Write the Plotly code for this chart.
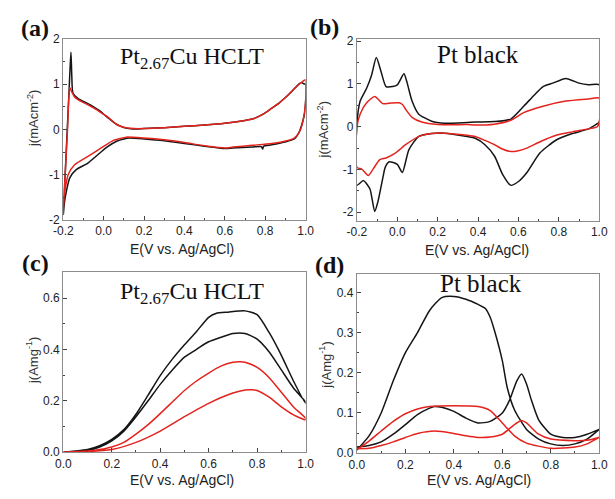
import plotly.graph_objects as go

# ---------------- (a) CV of Pt2.67Cu HCLT, j in mA cm^-2 ----------------
a_black_E = [-0.200, -0.190, -0.180, -0.172, -0.166, -0.162, -0.158, -0.152, -0.128, -0.100,
             -0.064, -0.040, -0.016, 0.010, 0.032, 0.055, 0.080, 0.110, 0.144, 0.200, 0.300,
             0.400, 0.500, 0.600, 0.700, 0.736, 0.790, 0.832, 0.870, 0.896, 0.920, 0.944,
             0.968, 0.980, 0.992, 1.000,
             1.000, 0.995, 0.984, 0.968, 0.944, 0.896, 0.832, 0.792, 0.788, 0.780, 0.736,
             0.640, 0.600, 0.500, 0.400, 0.300, 0.200, 0.128, 0.100, 0.064, 0.016, -0.032,
             -0.080, -0.136, -0.168, -0.184, -0.194, -0.200]
a_black_j = [-1.88, -0.92, 0.04, 0.80, 1.40, 1.71, 1.20, 0.80, 0.69, 0.62,
             0.54, 0.47, 0.40, 0.30, 0.22, 0.14, 0.08, 0.03, 0.01, 0.02, 0.04,
             0.07, 0.10, 0.14, 0.20, 0.23, 0.34, 0.47, 0.59, 0.69, 0.79, 0.90,
             1.01, 1.04, 1.01, 1.00,
             0.60, 0.35, 0.15, -0.06, -0.21, -0.28, -0.34, -0.37, -0.43, -0.38, -0.39,
             -0.41, -0.42, -0.37, -0.31, -0.25, -0.21, -0.19, -0.21, -0.26, -0.39, -0.57,
             -0.75, -0.89, -1.07, -1.35, -1.60, -1.88]
a_red_E = [-0.200, -0.190, -0.180, -0.168, -0.160, -0.144, -0.112, -0.080, -0.048, -0.016,
           0.016, 0.040, 0.064, 0.090, 0.112, 0.150, 0.200, 0.300, 0.400, 0.500, 0.600,
           0.700, 0.736, 0.790, 0.832, 0.870, 0.896, 0.920, 0.944, 0.968, 0.985, 0.995, 1.000,
           1.000, 0.990, 0.975, 0.960, 0.944, 0.896, 0.832, 0.736, 0.640, 0.600, 0.500,
           0.400, 0.300, 0.200, 0.112, 0.080, 0.048, -0.016, -0.080, -0.144, -0.176,
           -0.188, -0.196, -0.200]
a_red_j = [-1.78, -0.93, -0.08, 0.93, 0.85, 0.72, 0.62, 0.55, 0.47, 0.38,
           0.29, 0.20, 0.11, 0.06, 0.04, 0.02, 0.02, 0.04, 0.07, 0.10, 0.14,
           0.20, 0.23, 0.34, 0.47, 0.59, 0.69, 0.79, 0.90, 1.00, 1.06, 1.09, 1.10,
           0.60, 0.25, 0.00, -0.12, -0.19, -0.26, -0.31, -0.35, -0.39, -0.41, -0.36,
           -0.29, -0.23, -0.19, -0.17, -0.20, -0.24, -0.42, -0.60, -0.78, -1.00,
           -1.25, -1.50, -1.78]

# ---------------- (b) CV of Pt black ----------------
b_black_E = [-0.200, -0.200, -0.184, -0.152, -0.128, -0.104, -0.080, -0.056, -0.023, 0.000,
             0.033, 0.049, 0.073, 0.105, 0.170, 0.233, 0.346, 0.386, 0.480, 0.562, 0.626,
             0.680, 0.722, 0.770, 0.835, 0.900, 0.947, 1.000,
             1.000, 0.990, 0.947, 0.867, 0.787, 0.707, 0.642, 0.600, 0.562, 0.520, 0.482,
             0.434, 0.386, 0.346, 0.233, 0.170, 0.105, 0.057, 0.025, 0.000, -0.040, -0.060,
             -0.072, -0.096, -0.112, -0.136, -0.168, -0.200]
b_black_j = [-1.37, 0.07, 0.60, 0.90, 1.20, 1.62, 1.28, 0.94, 0.94, 0.98,
             1.24, 1.02, 0.60, 0.30, 0.13, 0.08, 0.10, 0.11, 0.12, 0.18, 0.48,
             0.75, 0.94, 1.02, 1.13, 1.02, 0.98, 0.98,
             0.10, 0.07, -0.05, -0.16, -0.31, -0.61, -1.07, -1.28, -1.37, -1.10, -0.69,
             -0.42, -0.27, -0.23, -0.15, -0.16, -0.23, -0.54, -1.07, -0.88, -0.82, -0.95,
             -1.20, -1.75, -1.98, -1.45, -1.26, -1.37]
b_red_E = [-0.200, -0.200, -0.184, -0.152, -0.112, -0.072, -0.040, 0.009, 0.025, 0.041,
           0.073, 0.121, 0.201, 0.346, 0.386, 0.480, 0.562, 0.626, 0.722, 0.835, 0.947, 1.000,
           1.000, 0.990, 0.947, 0.867, 0.787, 0.707, 0.642, 0.600, 0.562, 0.520, 0.482,
           0.434, 0.386, 0.346, 0.233, 0.170, 0.105, 0.041, -0.008, -0.056, -0.087,
           -0.120, -0.144, -0.176, -0.200]
b_red_j = [-0.95, 0.00, 0.30, 0.56, 0.71, 0.54, 0.55, 0.56, 0.52, 0.41,
           0.22, 0.11, 0.05, 0.05, 0.04, 0.06, 0.15, 0.33, 0.48, 0.60, 0.65, 0.67,
           0.10, 0.00, -0.05, -0.12, -0.20, -0.35, -0.50, -0.56, -0.58, -0.52, -0.42,
           -0.32, -0.23, -0.20, -0.15, -0.16, -0.23, -0.42, -0.61, -0.73, -0.77,
           -0.99, -1.14, -0.99, -0.95]

# ---------------- (c) methanol oxidation, Pt2.67Cu HCLT, j in A mg^-1 ----------------
c_black_E = [0.00, 0.05, 0.10, 0.15, 0.20, 0.25, 0.30, 0.35, 0.40, 0.45, 0.50, 0.55, 0.60,
             0.63, 0.68, 0.75, 0.80, 0.85, 0.90, 0.95, 1.00,
             1.00, 0.95, 0.90, 0.85, 0.80, 0.75, 0.70, 0.65, 0.60, 0.565, 0.55, 0.50, 0.45,
             0.40, 0.35, 0.30, 0.25, 0.20, 0.15, 0.10, 0.05, 0.00]
c_black_j = [0.000, 0.004, 0.010, 0.025, 0.050, 0.088, 0.148, 0.222, 0.298, 0.362, 0.418,
             0.470, 0.525, 0.540, 0.545, 0.550, 0.535, 0.465, 0.377, 0.277, 0.190,
             0.195, 0.250, 0.320, 0.390, 0.440, 0.462, 0.462, 0.447, 0.430, 0.410, 0.400,
             0.370, 0.320, 0.264, 0.200, 0.138, 0.082, 0.044, 0.020, 0.007, 0.002, 0.000]
c_red_E = [0.00, 0.05, 0.10, 0.15, 0.20, 0.25, 0.30, 0.35, 0.40, 0.45, 0.50, 0.55, 0.60,
           0.65, 0.70, 0.73, 0.75, 0.80, 0.85, 0.90, 0.95, 1.00,
           1.00, 0.95, 0.90, 0.85, 0.80, 0.78, 0.75, 0.70, 0.60, 0.50, 0.40, 0.30, 0.20,
           0.10, 0.00]
c_red_j = [0.000, 0.002, 0.004, 0.010, 0.020, 0.038, 0.070, 0.107, 0.150, 0.195, 0.240,
           0.277, 0.308, 0.335, 0.350, 0.352, 0.350, 0.330, 0.290, 0.233, 0.176, 0.132,
           0.126, 0.145, 0.176, 0.214, 0.240, 0.243, 0.242, 0.230, 0.190, 0.138, 0.082,
           0.038, 0.010, 0.002, 0.000]

# ---------------- (d) methanol oxidation, Pt black ----------------
d_black_E = [0.00, 0.05, 0.10, 0.15, 0.20, 0.25, 0.30, 0.35, 0.40, 0.45, 0.50, 0.53, 0.55,
             0.57, 0.60, 0.62, 0.65, 0.70, 0.75, 0.80, 0.85, 0.90, 0.95, 1.00,
             1.00, 0.95, 0.90, 0.85, 0.80, 0.75, 0.72, 0.70, 0.68, 0.66, 0.63, 0.60, 0.55,
             0.50, 0.45, 0.40, 0.35, 0.32, 0.30, 0.25, 0.20, 0.15, 0.10, 0.05, 0.00]
d_black_j = [0.008, 0.043, 0.100, 0.180, 0.250, 0.300, 0.355, 0.387, 0.390, 0.383, 0.370,
             0.360, 0.338, 0.300, 0.230, 0.164, 0.108, 0.059, 0.035, 0.023, 0.019, 0.023,
             0.035, 0.059,
             0.059, 0.047, 0.039, 0.039, 0.047, 0.083, 0.132, 0.172, 0.197, 0.180, 0.132,
             0.100, 0.079, 0.075, 0.087, 0.104, 0.114, 0.116, 0.112, 0.096, 0.071, 0.047,
             0.028, 0.019, 0.015]
d_red_E = [0.00, 0.05, 0.10, 0.15, 0.20, 0.25, 0.30, 0.40, 0.50, 0.55, 0.60, 0.65, 0.70,
           0.80, 0.90, 0.95, 1.00,
           1.00, 0.95, 0.90, 0.80, 0.75, 0.70, 0.68, 0.65, 0.60, 0.55, 0.50, 0.45, 0.40,
           0.32, 0.25, 0.20, 0.15, 0.10, 0.05, 0.00]
d_red_j = [0.009, 0.030, 0.055, 0.079, 0.098, 0.110, 0.116, 0.118, 0.116, 0.106, 0.075,
           0.043, 0.025, 0.012, 0.015, 0.023, 0.039,
           0.039, 0.032, 0.031, 0.035, 0.047, 0.075, 0.081, 0.071, 0.047, 0.040, 0.039,
           0.043, 0.049, 0.055, 0.049, 0.039, 0.028, 0.019, 0.012, 0.011]

# tick labels
cv_x_ticks = [-0.2, 0.0, 0.2, 0.4, 0.6, 0.8, 1.0]
cv_x_text = ["-0.2", "0.0", "0.2", "0.4", "0.6", "0.8", "1.0"]
mor_x_ticks = [0.0, 0.2, 0.4, 0.6, 0.8, 1.0]
mor_x_text = ["0.0", "0.2", "0.4", "0.6", "0.8", "1.0"]
cv_y_ticks = [-2, -1, 0, 1, 2]
cv_y_text = ["-2", "-1", "0", "1", "2"]
c_y_ticks = [0.0, 0.2, 0.4, 0.6]
c_y_text = ["0.0", "0.2", "0.4", "0.6"]
d_y_ticks = [0.0, 0.1, 0.2, 0.3, 0.4]
d_y_text = ["0.0", "0.1", "0.2", "0.3", "0.4"]

W, H = 615, 499
BLACK = "#151515"
RED = "#e3231d"
SANS = "Liberation Sans, Arial, sans-serif"
SERIF = "Liberation Serif, Times New Roman, serif"


def px_x(p):
    return p / W


def px_y(p):
    return 1 - p / H


fig = go.Figure()

panels = [
    ("x", "y", a_black_E, a_black_j, a_red_E, a_red_j),
    ("x2", "y2", b_black_E, b_black_j, b_red_E, b_red_j),
    ("x3", "y3", c_black_E, c_black_j, c_red_E, c_red_j),
    ("x4", "y4", d_black_E, d_black_j, d_red_E, d_red_j),
]
for xa, ya, bE, bj, rE, rj in panels:
    fig.add_trace(go.Scatter(x=bE, y=bj, xaxis=xa, yaxis=ya, mode="lines",
                             line=dict(color=BLACK, width=1.5, shape="spline", smoothing=0.6),
                             showlegend=False))
    fig.add_trace(go.Scatter(x=rE, y=rj, xaxis=xa, yaxis=ya, mode="lines",
                             line=dict(color=RED, width=1.5, shape="spline", smoothing=0.6),
                             showlegend=False))


def axis(domain, rng, tickvals, ticktext, minor_dtick, minor_tick0, anchor):
    return dict(
        domain=domain, range=rng, anchor=anchor,
        showline=True, linecolor="#8c8c8c", linewidth=1.3, mirror=True,
        showgrid=False, zeroline=False,
        ticks="inside", ticklen=4, tickwidth=1, tickcolor="#444",
        tickmode="array", tickvals=tickvals, ticktext=ticktext,
        tickfont=dict(family=SANS, size=12, color="#222"),
        minor=dict(ticks="inside", ticklen=2, tickwidth=1, tickcolor="#444",
                   tickmode="linear", tick0=minor_tick0, dtick=minor_dtick, showgrid=False),
    )


xa_left = [px_x(55), px_x(305)]
xa_right = [px_x(358), px_x(608)]

fig.update_layout(
    width=W, height=H,
    margin=dict(l=0, r=0, t=0, b=0),
    paper_bgcolor="white", plot_bgcolor="white",
    xaxis=axis(xa_left, [-0.2, 1.0], cv_x_ticks, cv_x_text, 0.1, -0.2, "y"),
    yaxis=axis([px_y(219), px_y(33)], [-2, 2], cv_y_ticks, cv_y_text, 0.5, -2, "x"),
    xaxis2=axis(xa_right, [-0.2, 1.0], cv_x_ticks, cv_x_text, 0.1, -0.2, "y2"),
    yaxis2=axis([px_y(220), px_y(33)], [-2.2, 2.05], cv_y_ticks, cv_y_text, 0.5, -2, "x2"),
    xaxis3=axis(xa_left, [0.0, 1.0], mor_x_ticks, mor_x_text, 0.1, 0.0, "y3"),
    yaxis3=axis([px_y(458), px_y(273)], [0.0, 0.7], c_y_ticks, c_y_text, 0.1, 0.0, "x3"),
    xaxis4=axis(xa_right, [0.0, 1.0], mor_x_ticks, mor_x_text, 0.1, 0.0, "y4"),
    yaxis4=axis([px_y(459), px_y(275)], [0.0, 0.445], d_y_ticks, d_y_text, 0.05, 0.0, "x4"),
)

ann = []


def text(x, y, s, size, family, color="#111", angle=0, bold=False):
    if bold:
        s = "<b>" + s + "</b>"
    ann.append(dict(x=px_x(x), y=px_y(y), xref="paper", yref="paper", text=s,
                    showarrow=False, xanchor="center", yanchor="middle", textangle=angle,
                    font=dict(family=family, size=size, color=color)))


# panel letters
text(26, 22, "(a)", 24, SERIF, bold=True)
text(325, 21, "(b)", 24, SERIF, bold=True)
text(26, 263, "(c)", 24, SERIF, bold=True)
text(330, 265, "(d)", 24, SERIF, bold=True)

# sample names
text(188, 52, "Pt<sub>2.67</sub>Cu HCLT", 24, SERIF)
text(483, 49, "Pt black", 25, SERIF)
text(188, 294, "Pt<sub>2.67</sub>Cu HCLT", 24, SERIF)
text(486, 284, "Pt black", 25, SERIF)

# axis titles
xt = "E(V vs. Ag/AgCl)"
text(177, 249, xt, 14, SANS, "#222")
text(482, 250, xt, 14, SANS, "#222")
text(177, 487, xt, 14, SANS, "#222")
text(484, 487, xt, 14, SANS, "#222")
text(23, 115, "j(mAcm<sup>-2</sup>)", 13, SANS, "#333", angle=-90)
text(323, 127, "j(mAcm<sup>-2</sup>)", 13, SANS, "#333", angle=-90)
text(23, 364, "j(Amg<sup>-1</sup>)", 13, SANS, "#333", angle=-90)
text(325, 368, "j(Amg<sup>-1</sup>)", 13, SANS, "#333", angle=-90)

fig.update_layout(annotations=ann)
fig.write_html("out.html")
